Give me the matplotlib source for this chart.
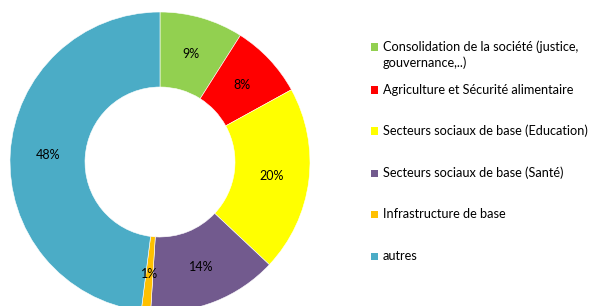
import matplotlib.pyplot as plt
from matplotlib.patches import Rectangle

# Data
categories = ["Consolidation de la société (justice,\ngouvernance,..)",
              "Agriculture et Sécurité alimentaire",
              "Secteurs sociaux de base (Education)",
              "Secteurs sociaux de base (Santé)",
              "Infrastructure de base",
              "autres"]
values = [9, 8, 20, 14, 1, 48]
colors = ["#92D050", "#FF0000", "#FFFF00", "#725A8E", "#FFC000", "#4BACC6"]

plt.rcParams['font.family'] = ['Lato', 'DejaVu Sans']

W, H = 592, 306
fig = plt.figure(figsize=(W / 100, H / 100), dpi=100)

# donut: centre (160,162) px, radius 150 px
ax = fig.add_axes([10 / W, (H - 312) / H, 300 / W, 300 / H])
wedges, texts, autotexts = ax.pie(values, colors=colors, startangle=90, counterclock=False,
                                  radius=1, autopct='%1.0f%%', pctdistance=0.75,
                                  wedgeprops=dict(width=0.5, edgecolor='white', linewidth=0.4),
                                  textprops=dict(fontsize=9, color='black'))
ax.set_xlim(-1, 1)
ax.set_ylim(-1, 1)
ax.set_aspect('equal')
ax.axis('off')

# legend drawn by hand
ys = [47, 90, 131, 173, 214, 256]
for lab, c, y in zip(categories, colors, ys):
    fig.patches.append(Rectangle(((371) / W, (H - y - 3.5) / H), 7 / W, 7 / H,
                                 transform=fig.transFigure, facecolor=c, edgecolor='none'))
    fig.text(383 / W, (H - y + 6.5) / H, lab, fontsize=9.2, va='top', ha='left',
             linespacing=1.35)

fig.savefig("out.png", dpi=100)
